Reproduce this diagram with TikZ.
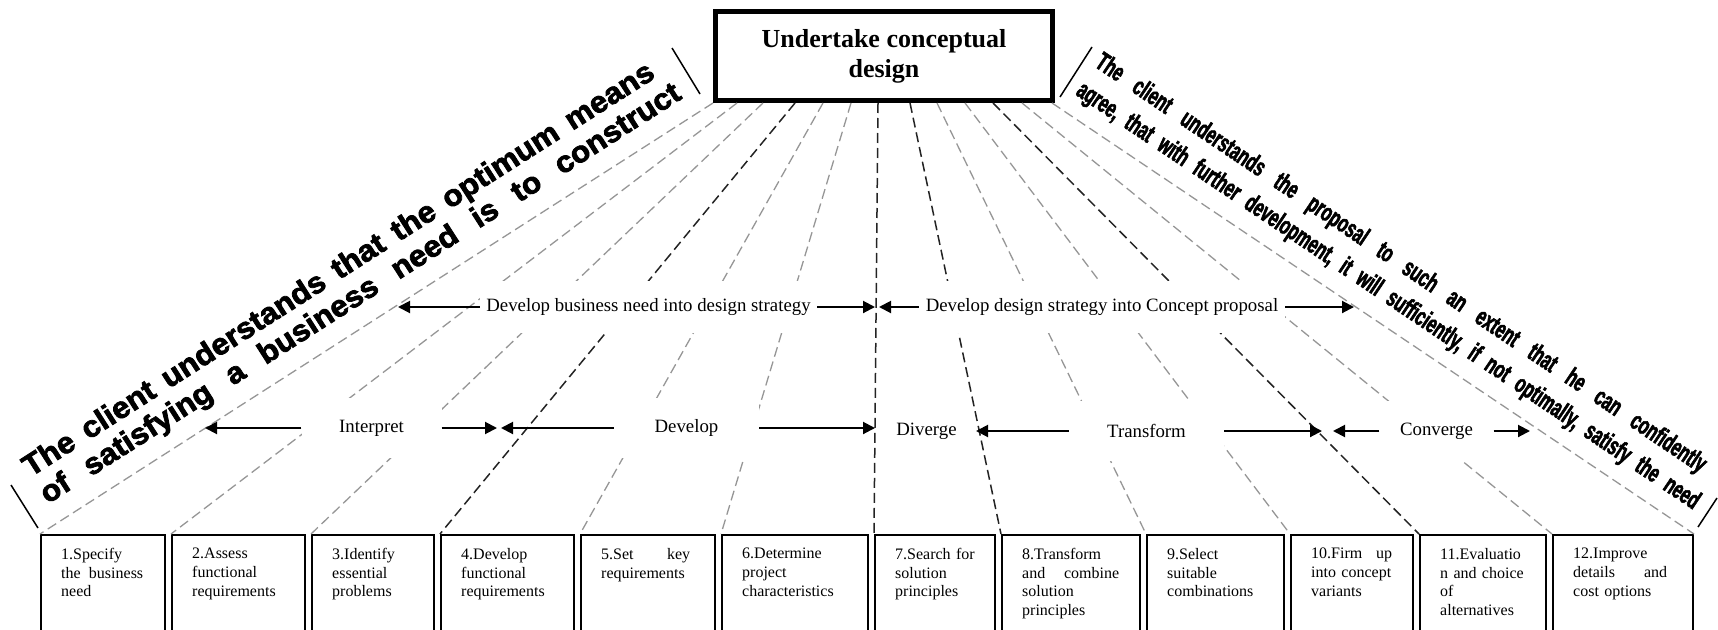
\documentclass[tikz,border=0pt]{standalone}
\usepackage{fontspec}
\setmainfont{Liberation Serif}
\newfontfamily\bandfont[FakeStretch=1.05,FakeBold=2.5]{Liberation Sans}
\newfontfamily\narrowfont[FakeStretch=0.62,FakeBold=2]{Liberation Sans}
\usetikzlibrary{positioning,calc,arrows.meta}

\definecolor{fangray}{RGB}{150,150,150}
\definecolor{fanblack}{RGB}{35,35,35}

\tikzset{
	mainbox/.style={draw, line width=5pt, minimum width=337pt, minimum height=89pt,
		align=center, font=\fontsize{26}{30}\selectfont\bfseries},
	stepbox/.style={draw, line width=2pt, minimum height=110pt, inner sep=0pt},
	steptext/.style={font=\fontsize{16}{18.7}\selectfont, align=left, inner sep=0pt},
	phaselabel/.style={fill=white, inner sep=0pt, font=\fontsize{18.8}{22}\selectfont},
	flowarrow/.style={line width=2pt, -{Triangle[length=12pt,width=12pt]}},
	fanline/.style={fangray, line width=1.3pt, dash pattern=on 10pt off 5pt},
	fandark/.style={fanblack, line width=1.5pt, dash pattern=on 10pt off 5pt},
	bandtick/.style={line width=1.5pt},
	bandtext/.style={inner sep=0pt, align=left, anchor=south},
}

\begin{document}
\begin{tikzpicture}[x=1pt, y=1pt]
	\useasboundingbox (0,0) rectangle (1718,-629);
	\clip (0,0) rectangle (1718,-629);

	\node[mainbox] (top) at (884,-56) {Undertake conceptual\\design};
	\coordinate (t0) at (713,-103);
	\coordinate (t1) at (737,-103);
	\coordinate (t2) at (763,-103);
	\coordinate (t3) at (795,-103);
	\coordinate (t4) at (823,-103);
	\coordinate (t5) at (851,-103);
	\coordinate (t6) at (878,-103);
	\coordinate (t7) at (910,-103);
	\coordinate (t8) at (937,-103);
	\coordinate (t9) at (965,-103);
	\coordinate (t10) at (993,-103);
	\coordinate (t11) at (1022,-103);
	\coordinate (t12) at (1052,-103);

	\node[stepbox, minimum width=124pt, anchor=north west] (b1) at (40,-534) {};
	\node[stepbox, minimum width=133pt, right=5pt of b1] (b2) {};
	\node[stepbox, minimum width=122pt, right=5pt of b2] (b3) {};
	\node[stepbox, minimum width=133pt, right=5pt of b3] (b4) {};
	\node[stepbox, minimum width=134pt, right=5pt of b4] (b5) {};
	\node[stepbox, minimum width=146pt, right=5pt of b5] (b6) {};
	\node[stepbox, minimum width=120pt, right=5pt of b6] (b7) {};
	\node[stepbox, minimum width=138pt, right=5pt of b7] (b8) {};
	\node[stepbox, minimum width=137pt, right=5pt of b8] (b9) {};
	\node[stepbox, minimum width=122pt, right=5pt of b9] (b10) {};
	\node[stepbox, minimum width=126pt, right=5pt of b10] (b11) {};
	\node[stepbox, minimum width=140pt, right=5pt of b11] (b12) {};

	\node[steptext, text width=82pt, below right=14pt and 21pt of b1.north west] (s1) {1.Specify\\the\hfill business\\need};
	\node[steptext, text width=91pt, below right=14pt and 21pt of b2.north west] (s2) {2.Assess\\functional\\requirements};
	\node[steptext, text width=80pt, below right=14pt and 21pt of b3.north west] (s3) {3.Identify\\essential\\problems};
	\node[steptext, text width=91pt, below right=14pt and 21pt of b4.north west] (s4) {4.Develop\\functional\\requirements};
	\node[steptext, text width=89pt, below right=14pt and 21pt of b5.north west] (s5) {5.Set\hfill key\\requirements};
	\node[steptext, text width=104pt, below right=14pt and 21pt of b6.north west] (s6) {6.Determine\\project\\characteristics};
	\node[steptext, text width=84pt, below right=14pt and 21pt of b7.north west] (s7) {7.Search for\\solution\\principles};
	\node[steptext, text width=97pt, below right=14pt and 21pt of b8.north west] (s8) {8.Transform\\and\hfill combine\\solution\\principles};
	\node[steptext, text width=95pt, below right=14pt and 21pt of b9.north west] (s9) {9.Select\\suitable\\combinations};
	\node[steptext, text width=81pt, below right=14pt and 21pt of b10.north west] (s10) {10.Firm\hfill up\\into concept\\variants};
	\node[steptext, text width=84pt, below right=14pt and 21pt of b11.north west] (s11) {11.Evaluatio\\n and choice\\of\\alternatives};
	\node[steptext, text width=94pt, below right=14pt and 21pt of b12.north west] (s12) {12.Improve\\details\hfill and\\cost options};

	\draw[fanline] (t0) -- (b1.north west);
	\draw[fanline] (t1) -- (b2.north west);
	\draw[fanline] (t2) -- (b3.north west);
	\draw[fandark] (t3) -- (b4.north west);
	\draw[fanline] (t4) -- (b5.north west);
	\draw[fanline] (t5) -- (b6.north west);
	\draw[fandark] (t6) -- (b7.north west);
	\draw[fandark] (t7) -- (b8.north west);
	\draw[fanline] (t8) -- (b9.north west);
	\draw[fanline] (t9) -- (b10.north west);
	\draw[fandark] (t10) -- (b11.north west);
	\draw[fanline] (t11) -- (b12.north west);
	\draw[fanline] (t12) -- (b12.north east);

	\draw[bandtick] (672,-48) -- (700,-94);
	\draw[bandtick] (1092,-47) -- (1060,-97);
	\draw[bandtick] (11,-485) -- (38,-528);
	\draw[bandtick] (1717,-498) -- (1698,-527);

	\node[bandtext, rotate=32.6, text width=754pt, font=\bandfont\fontsize{30}{32}\selectfont\bfseries] (need)
		at ($(t0)!0.5!(b1.north west)!14pt!90:(t0)$)
		{\hbox to 743pt{The\hfill client\hfill understands\hfill that\hfill the\hfill optimum\hfill means}\\
		\hbox to 754pt{of\hfill satisfying\hfill a\hfill business\hfill need\hfill is\hfill to\hfill construct}};
	\node[bandtext, rotate=-33.9, text width=745pt, font=\narrowfont\fontsize{26}{34}\selectfont\bfseries] (agree)
		at ($(t12)!0.5!(b12.north east)!14pt!90:(b12.north east)$)
		{\hbox to 730pt{The\hfill client\hfill understands\hfill the\hfill proposal\hfill to\hfill such\hfill an\hfill extent\hfill that\hfill he\hfill can\hfill confidently}\\
		\hbox to 745pt{agree,\hfill that\hfill with\hfill further\hfill development,\hfill it\hfill will\hfill sufficiently,\hfill if\hfill not\hfill optimally,\hfill satisfy\hfill the\hfill need}};

	\node[phaselabel, minimum width=337pt, minimum height=52pt] (biz) at (648.5,-307) {Develop business need into design strategy};
	\node[phaselabel, minimum width=366pt, minimum height=52pt] (con) at (1102,-307) {Develop design strategy into Concept proposal};
	\node[phaselabel, minimum width=140pt, minimum height=60pt] (int) at (371.5,-428) {Interpret};
	\node[phaselabel, minimum width=145pt, minimum height=60pt] (dev) at (686.5,-428) {Develop};
	\node[phaselabel, minimum width=75pt, minimum height=60pt] (div) at (926.5,-431) {Diverge};
	\node[phaselabel, minimum width=155pt, minimum height=60pt] (tra) at (1146.5,-431) {Transform};
	\node[phaselabel, minimum width=114pt, minimum height=60pt] (cvg) at (1436.5,-431) {Converge};

	\coordinate (bizL) at (398,-307);
	\coordinate (bizR) at (875,-307);
	\coordinate (conL) at (879,-307);
	\coordinate (conR) at (1354,-307);
	\coordinate (intL) at (205,-428);
	\coordinate (intR) at (497,-428);
	\coordinate (devL) at (501,-428);
	\coordinate (devR) at (875,-428);
	\coordinate (traL) at (976,-431);
	\coordinate (traR) at (1322,-431);
	\coordinate (cvgL) at (1333,-431);
	\coordinate (cvgR) at (1530,-431);

	\draw[flowarrow] (biz) -- (bizL);
	\draw[flowarrow] (biz) -- (bizR);
	\draw[flowarrow] (con) -- (conL);
	\draw[flowarrow] (con) -- (conR);
	\draw[flowarrow] (int) -- (intL);
	\draw[flowarrow] (int) -- (intR);
	\draw[flowarrow] (dev) -- (devL);
	\draw[flowarrow] (dev) -- (devR);
	\draw[flowarrow] (tra) -- (traL);
	\draw[flowarrow] (tra) -- (traR);
	\draw[flowarrow] (cvg) -- (cvgL);
	\draw[flowarrow] (cvg) -- (cvgR);
\end{tikzpicture}
\end{document}
